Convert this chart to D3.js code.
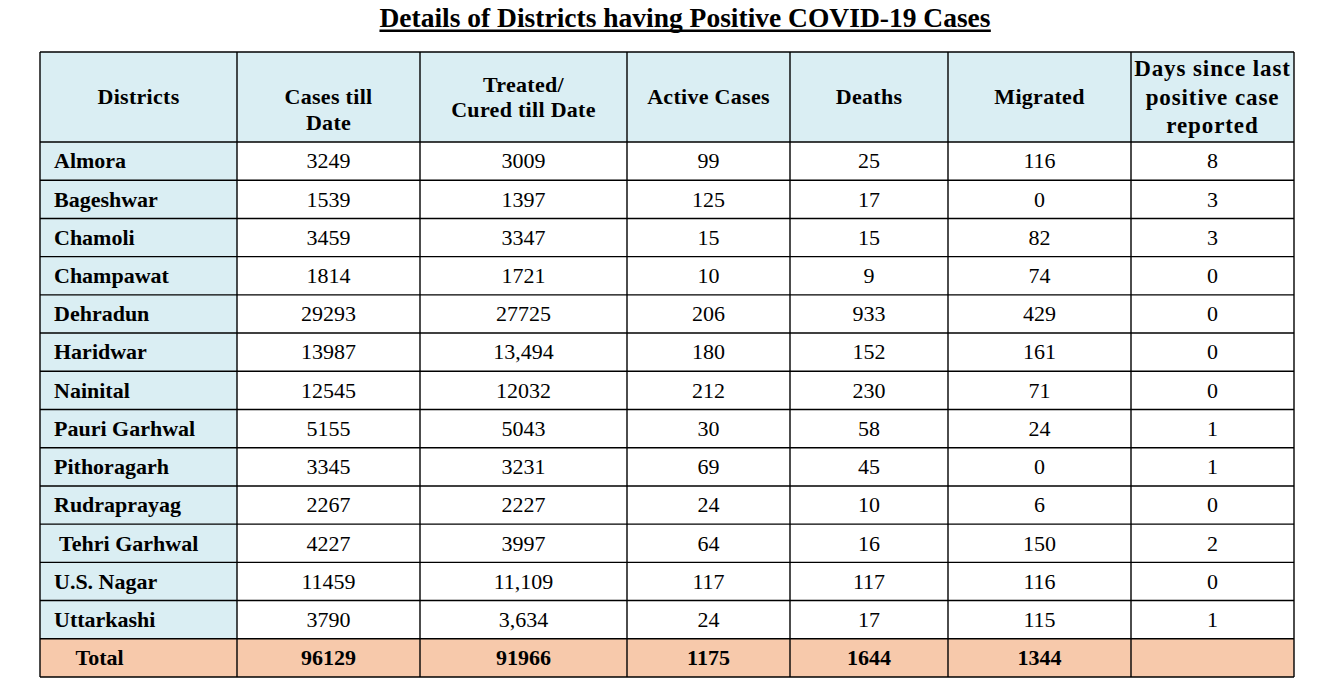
<!DOCTYPE html>
<html>
<head>
<meta charset="utf-8">
<script src="https://cdn.jsdelivr.net/npm/d3@7/dist/d3.min.js"></script>
<style>
  html, body { margin: 0; padding: 0; background: #ffffff; }
  svg { display: block; }
  text { font-family: "Liberation Serif", "Times New Roman", serif; fill: #000; white-space: pre; }
</style>
</head>
<body>
<svg id="chart" width="1320" height="700"></svg>
<script>
// ---------- data ----------
const title = "Details of Districts having Positive COVID-19 Cases";
const headers = [
  ["Districts"],
  ["", "Cases till", "Date"],
  ["Treated/", "Cured till Date"],
  ["Active Cases"],
  ["Deaths"],
  ["Migrated"],
  ["Days since last", "positive case", "reported"]
];
const districts = ["Almora", "Bageshwar", "Chamoli", "Champawat", "Dehradun", "Haridwar", "Nainital",
  "Pauri Garhwal", "Pithoragarh", "Rudraprayag", " Tehri Garhwal", "U.S. Nagar", "Uttarkashi"];
const casesTillDate = ["3249", "1539", "3459", "1814", "29293", "13987", "12545", "5155", "3345", "2267", "4227", "11459", "3790"];
const treatedCured = ["3009", "1397", "3347", "1721", "27725", "13,494", "12032", "5043", "3231", "2227", "3997", "11,109", "3,634"];
const activeCases = ["99", "125", "15", "10", "206", "180", "212", "30", "69", "24", "64", "117", "24"];
const deaths = ["25", "17", "15", "9", "933", "152", "230", "58", "45", "10", "16", "117", "17"];
const migrated = ["116", "0", "82", "74", "429", "161", "71", "24", "0", "6", "150", "116", "115"];
const daysSinceLast = ["8", "3", "3", "0", "0", "0", "0", "1", "1", "0", "2", "0", "1"];
const totals = ["    Total", "96129", "91966", "1175", "1644", "1344", ""];

// ---------- layout ----------
const svg = d3.select("#chart");
const colEdges = [40, 237, 420, 627, 790, 948, 1131, 1294];
const nCols = headers.length;
const nRows = districts.length;
const x = d3.scaleLinear().domain(d3.range(nCols + 1)).range(colEdges);
// row index: 0 = header, 1..nRows = districts, nRows+1 = total
const y = d3.scaleLinear().domain([0, 1, nRows + 2]).range([52, 142, 677]);

const blue = "#daeef3", peach = "#f7c9ab", white = "#ffffff";
const columns = [districts, casesTillDate, treatedCured, activeCases, deaths, migrated, daysSinceLast];

// cell backgrounds
const cells = [];
for (let c = 0; c < nCols; c++) cells.push({r: 0, c, fill: blue});
for (let r = 1; r <= nRows; r++) for (let c = 0; c < nCols; c++) cells.push({r, c, fill: c === 0 ? blue : white});
for (let c = 0; c < nCols; c++) cells.push({r: nRows + 1, c, fill: peach});

svg.append("g").selectAll("rect").data(cells).join("rect")
  .attr("x", d => x(d.c)).attr("y", d => y(d.r))
  .attr("width", d => x(d.c + 1) - x(d.c)).attr("height", d => y(d.r + 1) - y(d.r))
  .attr("fill", d => d.fill);

// grid lines
const grid = svg.append("g").attr("stroke", "#000").attr("stroke-width", 1.4);
grid.selectAll("line.h").data(d3.range(nRows + 3)).join("line").attr("class", "h")
  .attr("x1", x(0)).attr("x2", x(nCols)).attr("y1", d => y(d)).attr("y2", d => y(d));
grid.selectAll("line.v").data(d3.range(nCols + 1)).join("line").attr("class", "v")
  .attr("y1", y(0)).attr("y2", y(nRows + 2)).attr("x1", d => x(d)).attr("x2", d => x(d));

// title
const tx = 685;
const titleText = svg.append("text").attr("x", tx).attr("y", 27)
  .attr("text-anchor", "middle").attr("font-size", 27.5).attr("font-weight", "bold").text(title);
const tb = titleText.node().getBBox();
svg.append("rect").attr("x", tb.x).attr("y", 29.5).attr("width", tb.width).attr("height", 2.5).attr("fill", "#000");

// headers
const hg = svg.append("g");
headers.forEach((lines, c) => {
  const last = c === nCols - 1;
  const fs = last ? 23 : 22;
  const lh = last ? 28.5 : 25.5;
  const cy = (y(0) + y(1)) / 2;
  const n = lines.length;
  lines.forEach((ln, i) => {
    hg.append("text")
      .attr("x", (x(c) + x(c + 1)) / 2)
      .attr("y", cy + (i - (n - 1) / 2) * lh + fs * 0.33)
      .attr("text-anchor", "middle").attr("font-size", fs).attr("font-weight", "bold")
      .attr("letter-spacing", last ? 0.9 : 0.3)
      .text(ln);
  });
});

// body
const bg = svg.append("g");
columns.forEach((col, c) => {
  bg.selectAll(null).data(col).join("text")
    .attr("x", c === 0 ? x(0) + 14 : (x(c) + x(c + 1)) / 2)
    .attr("y", (d, i) => (y(i + 1) + y(i + 2)) / 2 + 22 * 0.33)
    .attr("text-anchor", c === 0 ? "start" : "middle")
    .attr("font-size", 22)
    .attr("font-weight", c === 0 ? "bold" : "normal")
    .text(d => d);
});

// totals
svg.append("g").selectAll("text").data(totals).join("text")
  .attr("x", (d, c) => c === 0 ? x(0) + 14 : (x(c) + x(c + 1)) / 2)
  .attr("y", (y(nRows + 1) + y(nRows + 2)) / 2 + 22 * 0.33)
  .attr("text-anchor", (d, c) => c === 0 ? "start" : "middle")
  .attr("font-size", 22).attr("font-weight", "bold")
  .text(d => d);
</script>
</body>
</html>
